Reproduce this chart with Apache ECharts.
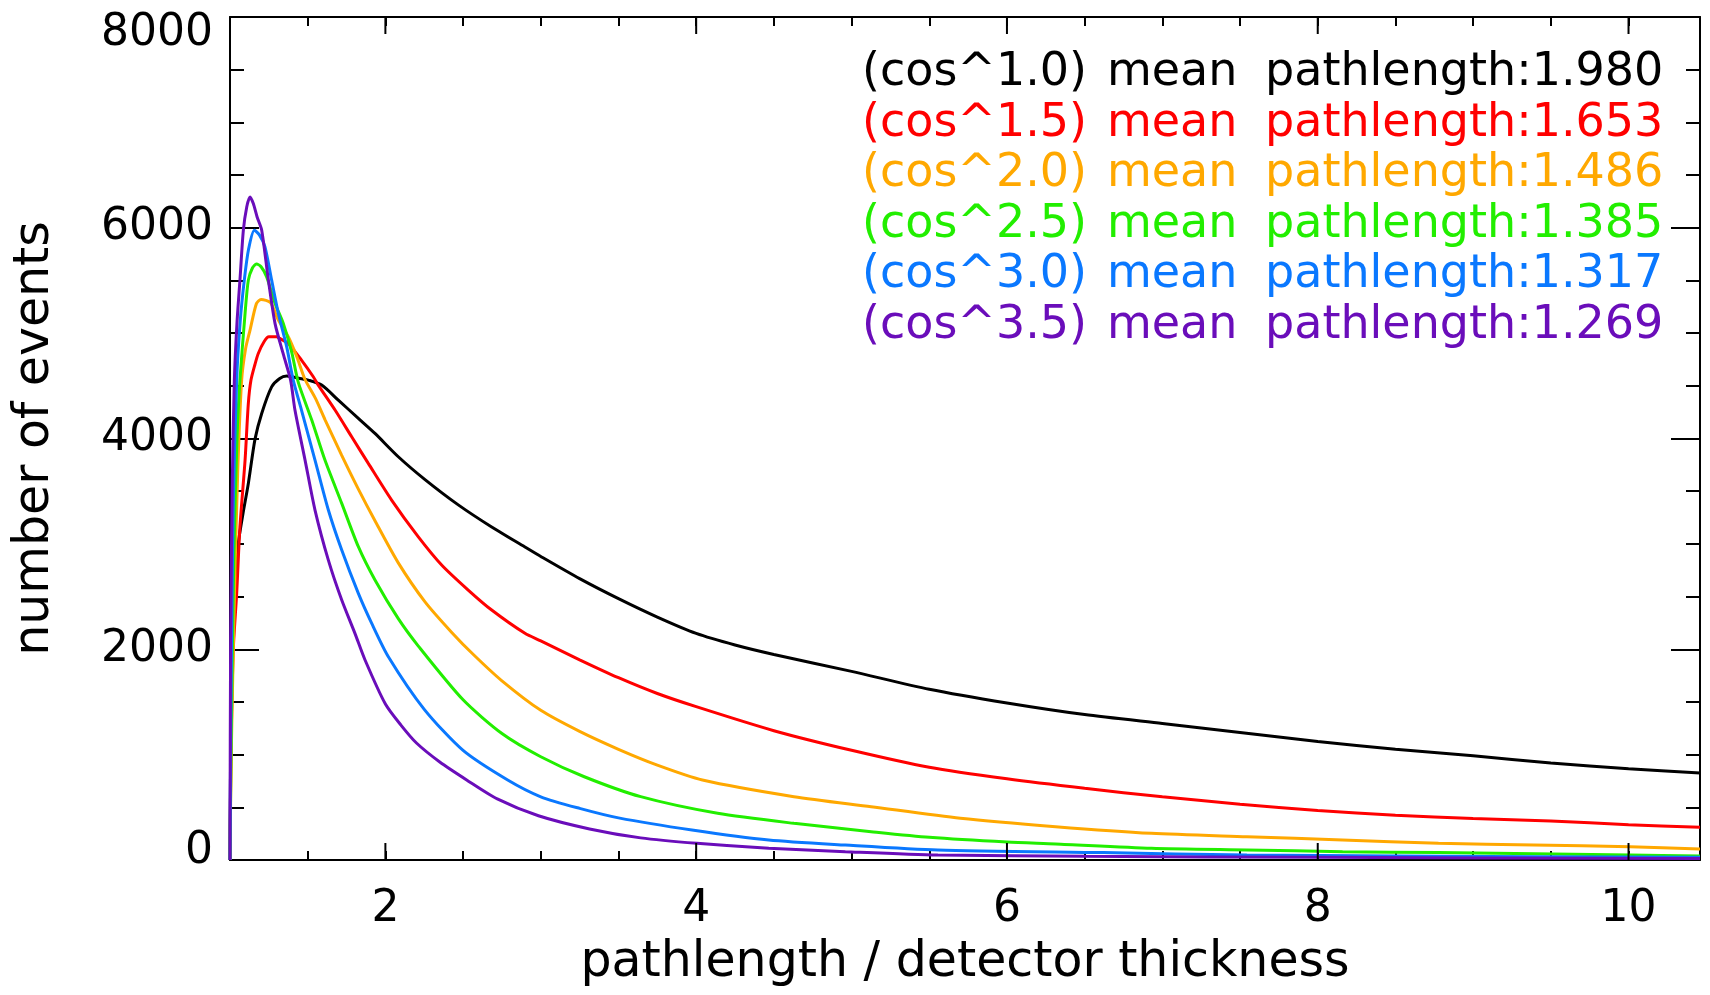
<!DOCTYPE html>
<html>
<head>
<meta charset="utf-8">
<script src="https://cdn.jsdelivr.net/npm/echarts@6/dist/echarts.min.js"></script>
<style>
html,body{margin:0;padding:0;background:#fff;}
#chart{width:1710px;height:995px;}
</style>
</head>
<body>
<div id="chart"></div>
<script>
// ---- data ----
const powers = ['1.0', '1.5', '2.0', '2.5', '3.0', '3.5'];
const meanPath = ['1.980', '1.653', '1.486', '1.385', '1.317', '1.269'];
const colors = ['#000000', '#ff0000', '#ffa800', '#22ee00', '#0a78ff', '#6a0dba'];

const xMajorTicks = [2, 4, 6, 8, 10];

const cos10 = [[1.0,0],[1.004,1000],[1.011,2024],[1.03,2600],[1.053,3004],[1.085,3300],[1.118,3574],[1.161,3994],[1.204,4238],[1.268,4490],[1.32,4570],[1.365,4592],[1.45,4570],[1.504,4554],[1.59,4507],[1.697,4364],[1.826,4191],[1.933,4048],[2.083,3827],[2.255,3610],[2.469,3370],[2.684,3160],[2.898,2970],[3.0,2880],[3.25,2670],[3.5,2480],[3.75,2305],[4.0,2150],[4.25,2040],[4.5,1950],[5.0,1790],[5.5,1620],[6.0,1490],[6.5,1380],[7.0,1295],[7.5,1210],[8.0,1125],[8.5,1050],[9.0,990],[9.5,920],[10.0,865],[10.46,825]];
const cos15 = [[1.0,0],[1.006,1000],[1.021,1993],[1.043,2530],[1.064,3163],[1.097,3795],[1.118,4333],[1.135,4554],[1.16,4700],[1.182,4807],[1.22,4920],[1.25,4965],[1.3,4965],[1.32,4950],[1.375,4902],[1.46,4744],[1.536,4586],[1.568,4507],[1.676,4270],[1.783,4016],[1.89,3764],[2.04,3416],[2.212,3067],[2.362,2800],[2.533,2562],[2.684,2372],[2.898,2151],[3.0,2080],[3.25,1900],[3.5,1730],[3.75,1580],[4.0,1455],[4.5,1227],[5.0,1041],[5.5,880],[6.0,770],[6.5,680],[7.0,600],[7.5,530],[8.0,470],[8.5,425],[9.0,395],[9.5,370],[10.0,335],[10.46,310]];
const cos20 = [[1.0,0],[1.008,1000],[1.03,2600],[1.05,3700],[1.075,4554],[1.1,4850],[1.129,5029],[1.17,5280],[1.2,5320],[1.26,5290],[1.311,5124],[1.375,4966],[1.43,4776],[1.483,4560],[1.55,4380],[1.611,4180],[1.719,3840],[1.826,3520],[1.933,3220],[2.083,2820],[2.255,2450],[2.427,2160],[2.566,1950],[2.75,1700],[3.0,1420],[3.25,1220],[3.5,1050],[3.75,900],[4.04,759],[4.629,601],[5.126,506],[5.7,396],[6.313,316],[6.93,253],[7.544,221],[8.16,190],[8.777,158],[9.39,142],[10.01,126],[10.46,105]];
const cos25 = [[1.0,0],[1.008,1200],[1.025,2900],[1.045,4000],[1.064,4554],[1.097,5187],[1.118,5503],[1.145,5620],[1.17,5655],[1.2,5630],[1.236,5534],[1.29,5282],[1.343,5092],[1.397,4820],[1.44,4530],[1.526,4175],[1.611,3795],[1.719,3384],[1.826,2973],[1.933,2657],[2.083,2290],[2.212,2030],[2.5,1520],[2.75,1200],[3.0,980],[3.28,790],[3.643,601],[4.138,443],[4.629,348],[5.126,269],[5.5,215],[6.0,170],[6.313,152],[6.93,111],[7.544,95],[8.16,79],[8.777,70],[10.01,47],[10.46,38]];
const cos30 = [[1.0,0],[1.006,1500],[1.02,3300],[1.043,4554],[1.065,5100],[1.092,5503],[1.12,5800],[1.157,5977],[1.19,5930],[1.225,5819],[1.268,5503],[1.311,5187],[1.365,4870],[1.407,4554],[1.46,4270],[1.547,3795],[1.633,3321],[1.719,2941],[1.826,2530],[1.912,2245],[2.019,1929],[2.25,1430],[2.5,1040],[2.787,759],[3.0,600],[3.25,490],[3.5,400],[3.973,285],[4.467,190],[4.96,142],[5.555,95],[6.62,70],[7.544,47],[8.5,38],[10.46,25]];
const cos35 = [[1.0,0],[1.004,2100],[1.015,3600],[1.028,4554],[1.045,5100],[1.064,5503],[1.086,5977],[1.108,6200],[1.129,6293],[1.15,6230],[1.175,6100],[1.204,5977],[1.247,5503],[1.29,5090],[1.343,4800],[1.39,4554],[1.418,4270],[1.483,3795],[1.547,3321],[1.633,2846],[1.719,2467],[1.804,2151],[1.869,1898],[2.0,1480],[2.1,1280],[2.2,1110],[2.35,930],[2.523,760],[2.72,580],[2.985,420],[3.314,295],[3.643,210],[4.005,158],[4.467,111],[4.96,79],[5.555,47],[6.5,35],[8.0,25],[10.46,15]];
const seriesData = [cos10, cos15, cos20, cos25, cos30, cos35];

const X_MIN = 1, X_MAX = 10.46, X_MINOR = 0.5;
const Y_MIN = 0, Y_MAX = 8000, Y_STEP = 2000;
const FONT = 'DejaVu Sans';
const TICK_W = 2;

const chart = echarts.init(document.getElementById('chart'), null, {renderer: 'canvas'});

function xAxisDef(pos, showLabel, extra) {
  return Object.assign({
    type: 'value', position: pos, min: X_MIN, max: X_MAX, interval: X_MINOR,
    axisLine: {show: true, onZero: false, lineStyle: {color: '#000', width: 2}},
    axisTick: {show: true, inside: true, length: 9, lineStyle: {color: '#000', width: TICK_W}},
    axisLabel: {show: showLabel, margin: 28, color: '#000', fontSize: 44, fontFamily: FONT,
      showMinLabel: false, showMaxLabel: false,
      formatter: v => (xMajorTicks.indexOf(Math.round(v * 100) / 100) >= 0 ? String(v) : '')},
    splitLine: {show: false}
  }, extra || {});
}
function yAxisDef(pos, showLabel, extra) {
  return Object.assign({
    type: 'value', position: pos, min: Y_MIN, max: Y_MAX, interval: Y_STEP,
    axisLine: {show: true, onZero: false, lineStyle: {color: '#000', width: 2}},
    axisTick: {show: true, inside: true, length: 29, lineStyle: {color: '#000', width: TICK_W}},
    minorTick: {show: true, splitNumber: 4, length: 14, lineStyle: {color: '#000', width: TICK_W}},
    axisLabel: {show: showLabel, margin: 17, color: '#000', fontSize: 44, fontFamily: FONT,
      lineHeight: 17, padding: [8, 0, 0, 0],
      formatter: v => String(v),
      verticalAlignMinLabel: 'bottom', verticalAlignMaxLabel: 'top'},
    splitLine: {show: false}, minorSplitLine: {show: false}
  }, extra || {});
}

const graphics = [];
const legendY0 = 73.5, legendDY = 50.5;
powers.forEach((p, i) => {
  const y = legendY0 + i * legendDY;
  const st = {fill: colors[i], font: '46px "' + FONT + '"', verticalAlign: 'middle', align: 'left'};
  graphics.push({type: 'text', x: 862, y: y, z: 100, style: Object.assign({text: '(cos^' + p + ')'}, st)});
  graphics.push({type: 'text', x: 1107, y: y, z: 100, style: Object.assign({text: 'mean'}, st)});
  graphics.push({type: 'text', x: 1265, y: y, z: 100, style: Object.assign({text: 'pathlength:' + meanPath[i]}, st)});
});

const majorTickSeries = {
  type: 'custom',
  name: 'majorTicks',
  silent: true,
  clip: false,
  xAxisIndex: 0, yAxisIndex: 0,
  data: xMajorTicks.map(v => [v, Y_MIN]),
  encode: {x: 0, y: 1},
  z: 20,
  renderItem: (params, api) => {
    const v = api.value(0);
    const b = api.coord([v, Y_MIN]);
    const t = api.coord([v, Y_MAX]);
    const ls = {stroke: '#000', lineWidth: TICK_W};
    return {type: 'group', children: [
      {type: 'line', shape: {x1: b[0], y1: b[1], x2: b[0], y2: b[1] - 17}, style: ls},
      {type: 'line', shape: {x1: t[0], y1: t[1], x2: t[0], y2: t[1] + 17}, style: ls}
    ]};
  }
};

const option = {
  animation: false,
  backgroundColor: '#ffffff',
  grid: {left: 230, right: 10, top: 17, bottom: 135, containLabel: false},
  xAxis: [
    xAxisDef('bottom', true, {
      name: 'pathlength / detector thickness', nameLocation: 'middle', nameGap: 79,
      nameTextStyle: {color: '#000', fontSize: 49, fontFamily: FONT, verticalAlign: 'top'}
    }),
    xAxisDef('top', false)
  ],
  yAxis: [
    yAxisDef('left', true, {
      name: 'number of events', nameLocation: 'middle', nameGap: 170, nameRotate: 90,
      nameTextStyle: {color: '#000', fontSize: 49, fontFamily: FONT}
    }),
    yAxisDef('right', false)
  ],
  graphic: graphics,
  series: seriesData.map((d, i) => ({
    name: 'cos^' + powers[i],
    type: 'line',
    xAxisIndex: 0, yAxisIndex: 0,
    data: d,
    showSymbol: false,
    symbol: 'none',
    smooth: 0.25,
    clip: true,
    lineStyle: {color: colors[i], width: 3},
    itemStyle: {color: colors[i]},
    z: 2 + i
  })).concat([majorTickSeries])
};
chart.setOption(option);
</script>
</body>
</html>
